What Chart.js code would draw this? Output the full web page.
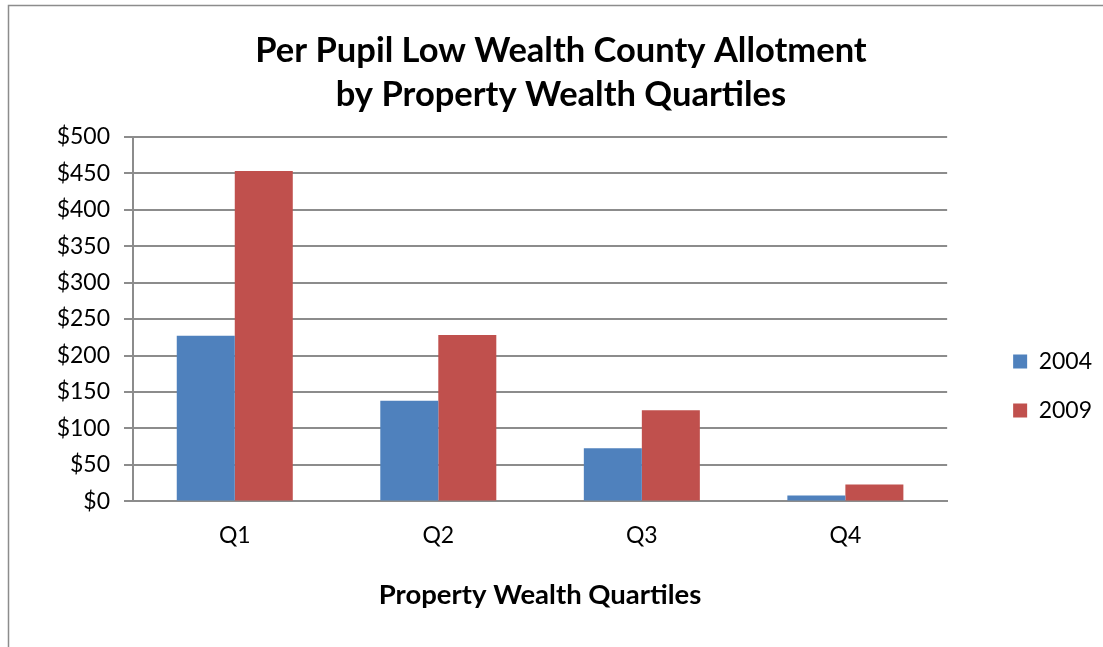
<!DOCTYPE html>
<html>
<head>
<meta charset="utf-8">
<script src="https://cdn.jsdelivr.net/npm/chart.js@4"></script>
<style>
  html, body { margin: 0; padding: 0; background: #fff; }
  #wrap { width: 1103px; height: 647px; }
</style>
</head>
<body>
<div id="wrap"><canvas id="chart_1"></canvas></div>
<script>
const labels = ['Q1', 'Q2', 'Q3', 'Q4'];
const values2004 = [227, 138, 73, 8];
const values2009 = [453, 228, 125, 23];
const yTicks = [0, 50, 100, 150, 200, 250, 300, 350, 400, 450, 500];

const FONT = 'Lato, "Open Sans", sans-serif';

// frame around the chart (left and top edges show in the original)
const frame = {
  id: 'frame',
  beforeDraw(chart) {
    const { ctx } = chart;
    ctx.save();
    ctx.strokeStyle = '#8c8c8c';
    ctx.lineWidth = 1.5;
    ctx.beginPath();
    ctx.moveTo(8.5, 660);
    ctx.lineTo(8.5, 5.5);
    ctx.lineTo(1110, 5.5);
    ctx.stroke();
    ctx.restore();
  }
};

const chartData = {
  labels,
  datasets: [
    {
      label: '2004',
      data: values2004,
      backgroundColor: '#4F81BD',
      categoryPercentage: 0.57,
      barPercentage: 1.0
    },
    {
      label: '2009',
      data: values2009,
      backgroundColor: '#C0504D',
      categoryPercentage: 0.57,
      barPercentage: 1.0
    }
  ]
};

const config = {
  type: 'bar',
  data: chartData,
  options: {
    responsive: true,
    maintainAspectRatio: false,
    animation: false,
    layout: { padding: { top: 20, right: 1, bottom: 35, left: 20 } },
    plugins: {
      title: {
        display: true,
        text: ['Per Pupil Low Wealth County Allotment', 'by Property Wealth Quartiles'],
        color: '#000',
        font: { family: FONT, size: 34.5, weight: 'bold', lineHeight: 1.3 },
        padding: { top: 8, bottom: 19 }
      },
      legend: {
        position: 'right',
        align: 'center',
        title: { display: true, text: '', font: { size: 1 }, padding: { top: 139, bottom: 0 } },
        labels: {
          color: '#000',
          font: { family: FONT, size: 23 },
          boxWidth: 14,
          boxHeight: 14,
          padding: 26
        }
      },
      tooltip: { enabled: false }
    },
    scales: {
      x: {
        grid: { display: false },
        border: { color: '#8c8c8c', width: 2 },
        ticks: { color: '#000', font: { family: FONT, size: 23 }, padding: 12 },
        title: {
          display: true,
          text: 'Property Wealth Quartiles',
          color: '#000',
          font: { family: FONT, size: 27.5, weight: 'bold' },
          padding: { top: 18, bottom: 0 }
        }
      },
      y: {
        min: 0,
        max: 500,
        afterBuildTicks(scale) {
          scale.ticks = yTicks.map(v => ({ value: v }));
        },
        afterFit(scale) { scale.width = 113; },
        grid: { color: '#8c8c8c', lineWidth: 2, tickLength: 9 },
        border: { color: '#8c8c8c', width: 2 },
        ticks: {
          color: '#000',
          font: { family: FONT, size: 23 },
          padding: 14,
          callback: v => '$' + v
        }
      },
      // empty spacer between plot area and legend
      gap: {
        position: 'right',
        display: true,
        grid: { display: false },
        border: { display: false },
        ticks: { display: false },
        afterFit(scale) { scale.width = 40; }
      }
    }
  },
  plugins: [frame]
};

const chart_1 = new Chart(document.getElementById('chart_1'), config);
</script>
</body>
</html>
